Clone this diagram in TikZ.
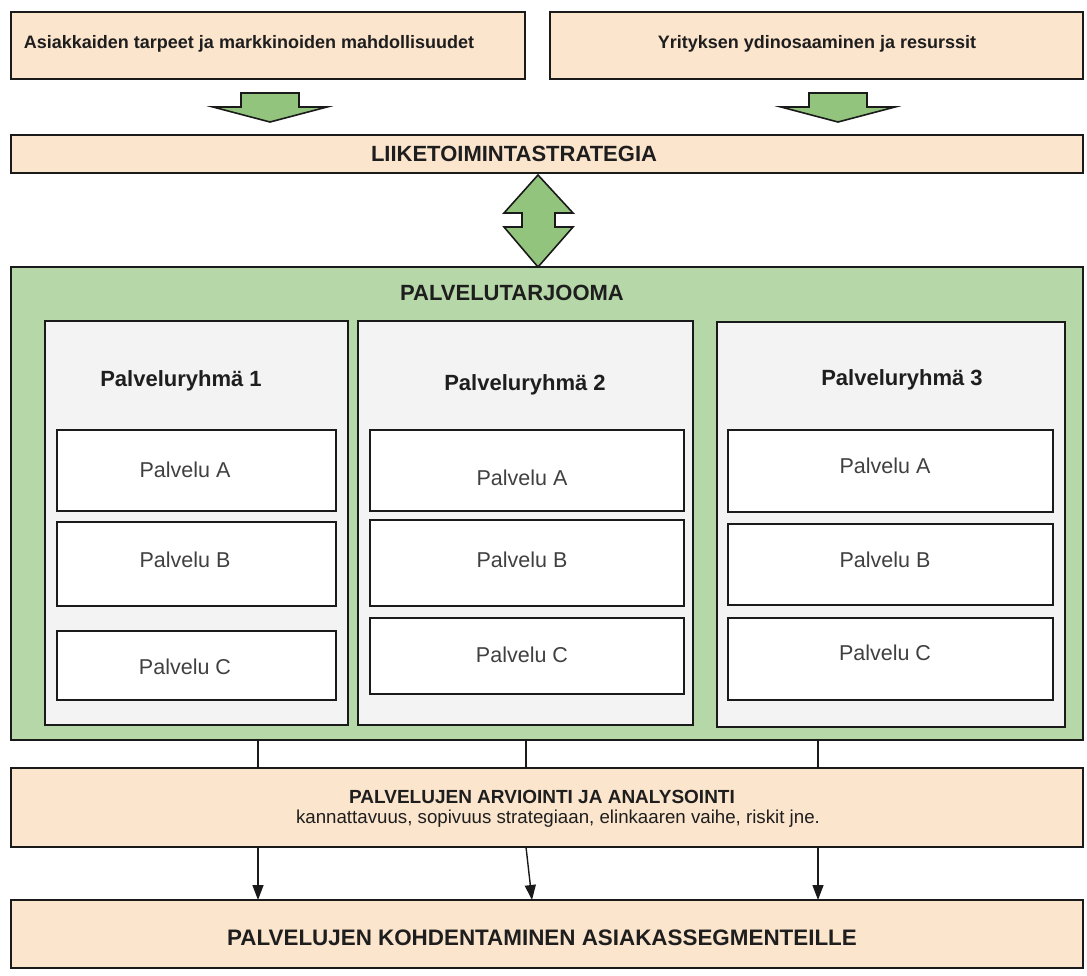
\documentclass[tikz,border=0pt]{standalone}
\usepackage{fontspec}
\setmainfont{Liberation Sans}
\usetikzlibrary{arrows.meta}
\definecolor{peach}{HTML}{FCE5CD}
\definecolor{leaf}{HTML}{B6D7A8}
\definecolor{arrowgreen}{HTML}{93C47D}
\definecolor{grp}{HTML}{F3F3F3}
\definecolor{lc}{HTML}{1A1A1A}
\definecolor{tc}{HTML}{1E1E1E}
\begin{document}
\begin{tikzpicture}[x=1pt,y=-1pt,
  box/.style={draw=lc,line width=1.6pt,inner sep=0pt,outer sep=0pt},
  peachbox/.style={box,fill=peach},
  greenbox/.style={box,fill=leaf},
  grpbox/.style={box,fill=grp},
  svcbox/.style={box,fill=white},
  txt/.style={inner sep=0pt,text=tc},
  toptxt/.style={txt,font=\fontsize{18}{21}\selectfont\bfseries},
  bigtxt/.style={txt,font=\fontsize{22}{26}\selectfont\bfseries},
  svctxt/.style={txt,text=tc!85,font=\fontsize{21.5}{25}\selectfont},
  bigarrow/.style={draw=lc,line width=1.6pt,fill=arrowgreen,line join=miter},
  conn/.style={draw=lc,line width=1.4pt},
  connarrow/.style={conn,-{Triangle[length=15pt,width=11pt]}}
]
\useasboundingbox[fill=white] (0,0) rectangle (1087,975);

% top boxes
\node[peachbox,minimum width=514pt,minimum height=67pt] (top1) at (268,45.5) {};
\node[toptxt] (top1t) at (249,44) {Asiakkaiden tarpeet ja markkinoiden mahdollisuudet};
\node[peachbox,minimum width=533pt,minimum height=67pt] (top2) at (816.5,45.5) {};
\node[toptxt] (top2t) at (817,44) {Yrityksen ydinosaaminen ja resurssit};

% down arrows
\draw[bigarrow] (241,93) -- (299,93) -- (299,107) -- (327,107) -- (270,122) -- (213,107) -- (241,107) -- cycle;
\draw[bigarrow] (809,93) -- (867,93) -- (867,107) -- (895,107) -- (838,122) -- (781,107) -- (809,107) -- cycle;

% strategy
\node[peachbox,minimum width=1072pt,minimum height=38pt] (strat) at (547,154) {};
\node[bigtxt] (stratt) at (514,154) {LIIKETOIMINTASTRATEGIA};

% double arrow
\draw[bigarrow] (538,175) -- (573,213) -- (555,213) -- (555,227) -- (573,227) -- (538,267)
  -- (504,227) -- (522,227) -- (522,213) -- (504,213) -- cycle;

% service offering
\node[greenbox,minimum width=1072pt,minimum height=473pt] (offer) at (547,503.5) {};
\node[bigtxt] (offert) at (512,293) {PALVELUTARJOOMA};

% groups
\node[grpbox,minimum width=303pt,minimum height=404pt] (g1) at (196.5,523) {};
\node[grpbox,minimum width=335pt,minimum height=404pt] (g2) at (525.5,523) {};
\node[grpbox,minimum width=348pt,minimum height=405pt] (g3) at (891,524.5) {};
\node[bigtxt] (g1t) at (181,381) {Palveluryhmä 1};
\node[bigtxt] (g2t) at (525,385) {Palveluryhmä 2};
\node[bigtxt] (g3t) at (902,380) {Palveluryhmä 3};

% group 1 services
\node[svcbox,minimum width=279pt,minimum height=81pt] (a1) at (196.5,470.5) {};
\node[svcbox,minimum width=279pt,minimum height=84pt] (b1) at (196.5,564) {};
\node[svcbox,minimum width=279pt,minimum height=69pt] (c1) at (196.5,665.5) {};
\node[svctxt] (a1t) at (185,470) {Palvelu A};
\node[svctxt] (b1t) at (185,560) {Palvelu B};
\node[svctxt] (c1t) at (185,667) {Palvelu C};

% group 2 services
\node[svcbox,minimum width=314pt,minimum height=81pt] (a2) at (527,470.5) {};
\node[svcbox,minimum width=314pt,minimum height=86pt] (b2) at (527,563) {};
\node[svcbox,minimum width=314pt,minimum height=76pt] (c2) at (527,656) {};
\node[svctxt] (a2t) at (522,478) {Palvelu A};
\node[svctxt] (b2t) at (522,560) {Palvelu B};
\node[svctxt] (c2t) at (522,655) {Palvelu C};

% group 3 services
\node[svcbox,minimum width=325pt,minimum height=82pt] (a3) at (890.5,471) {};
\node[svcbox,minimum width=325pt,minimum height=81pt] (b3) at (890.5,564.5) {};
\node[svcbox,minimum width=325pt,minimum height=82pt] (c3) at (890.5,659) {};
\node[svctxt] (a3t) at (885,466) {Palvelu A};
\node[svctxt] (b3t) at (885,560) {Palvelu B};
\node[svctxt] (c3t) at (885,653) {Palvelu C};

% analysis
\node[peachbox,minimum width=1072pt,minimum height=79pt] (anal) at (547,807.5) {};
\node[txt,font=\fontsize{19}{22}\selectfont\bfseries] (analt) at (542,797) {PALVELUJEN ARVIOINTI JA ANALYSOINTI};
\node[txt,font=\fontsize{18.7}{22}\selectfont] (anals) at (558,819) {kannattavuus, sopivuus strategiaan, elinkaaren vaihe, riskit jne.};

% final
\node[peachbox,minimum width=1072pt,minimum height=68pt] (final) at (547,934) {};
\node[bigtxt,font=\fontsize{22.4}{26}\selectfont\bfseries] (finalt) at (542,938) {PALVELUJEN KOHDENTAMINEN ASIAKASSEGMENTEILLE};

% connectors
\coordinate (x1) at (258,0);
\coordinate (x2) at (526,0);
\coordinate (x2b) at (532,0);
\coordinate (x3) at (818,0);
\draw[conn] (offer.south -| x1) -- (anal.north -| x1);
\draw[conn] (offer.south -| x2) -- (anal.north -| x2);
\draw[conn] (offer.south -| x3) -- (anal.north -| x3);
\draw[connarrow] (anal.south -| x1) -- (final.north -| x1);
\draw[connarrow] (anal.south -| x2) -- (final.north -| x2b);
\draw[connarrow] (anal.south -| x3) -- (final.north -| x3);
\end{tikzpicture}
\end{document}
